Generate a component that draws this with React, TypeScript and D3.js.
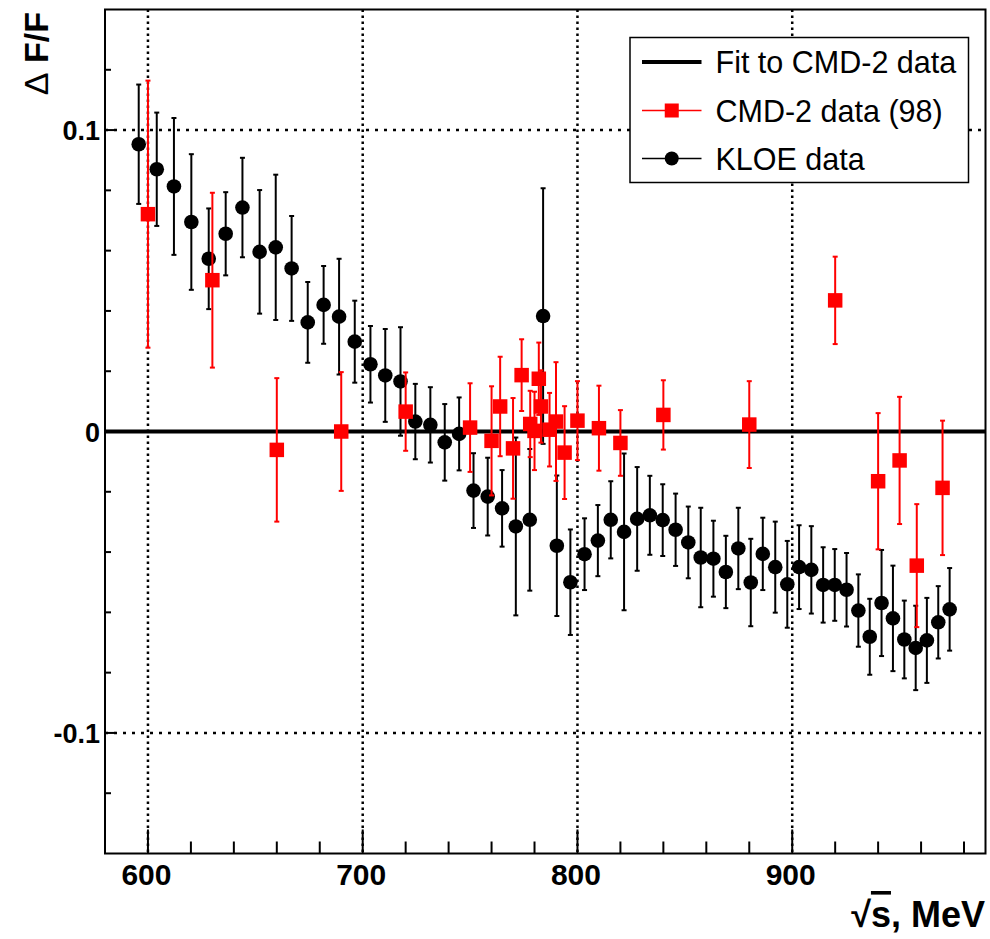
import React from "react";
import * as d3 from "d3";

// KLOE data
const kloeE = [595.7, 604.1, 612.1, 620.2, 628.3, 636.2, 644.0, 652.0, 659.5, 666.9, 674.4, 681.8, 689.0, 696.3, 703.6, 710.5, 717.6, 724.5, 731.5, 738.2, 744.9, 751.6, 758.2, 764.9, 771.3, 777.8, 784.0, 790.4, 796.7, 803.3, 809.5, 815.5, 821.7, 827.8, 833.7, 839.7, 845.7, 851.6, 857.4, 863.3, 869.1, 874.9, 880.7, 886.3, 892.1, 897.7, 903.2, 908.9, 914.4, 919.8, 925.3, 930.8, 936.1, 941.6, 946.9, 952.2, 957.5, 962.7, 968.0, 973.3];
const kloeV = [0.0953, 0.0870, 0.0813, 0.0695, 0.0573, 0.0656, 0.0743, 0.0596, 0.0611, 0.0541, 0.0362, 0.0420, 0.0381, 0.0298, 0.0223, 0.0186, 0.0166, 0.0033, 0.0022, -0.0036, -0.0008, -0.0196, -0.0216, -0.0255, -0.0315, -0.0293, 0.0383, -0.0379, -0.0500, -0.0407, -0.0362, -0.0293, -0.0333, -0.0290, -0.0278, -0.0294, -0.0326, -0.0368, -0.0418, -0.0422, -0.0466, -0.0388, -0.0501, -0.0406, -0.0450, -0.0507, -0.0450, -0.0459, -0.0509, -0.0509, -0.0525, -0.0594, -0.0681, -0.0569, -0.0620, -0.0690, -0.0718, -0.0693, -0.0633, -0.0590];
const kloeErr = [0.0198, 0.0188, 0.0227, 0.0225, 0.0167, 0.0138, 0.0165, 0.0205, 0.0241, 0.0174, 0.0134, 0.0129, 0.0192, 0.0136, 0.0127, 0.0154, 0.0180, 0.0125, 0.0125, 0.0127, 0.0121, 0.0124, 0.0129, 0.0127, 0.0295, 0.0235, 0.0424, 0.0233, 0.0175, 0.0119, 0.0118, 0.0128, 0.0260, 0.0172, 0.0131, 0.0119, 0.0120, 0.0119, 0.0165, 0.0126, 0.0120, 0.0135, 0.0145, 0.0120, 0.0151, 0.0144, 0.0139, 0.0145, 0.0125, 0.0119, 0.0122, 0.0120, 0.0126, 0.0176, 0.0175, 0.0129, 0.0140, 0.0141, 0.0120, 0.0137];

// CMD-2 data (98)
const cmdE = [600, 630, 660, 690, 720, 750, 760, 764, 770, 774, 778, 780, 782, 783, 787, 790, 794, 800, 810, 820, 840, 880, 920, 940, 950, 958, 970];
const cmdV = [0.0721, 0.0502, -0.0061, 0.0, 0.0066, 0.0013, -0.0031, 0.0083, -0.0056, 0.0187, 0.0025, 0.0002, 0.0175, 0.0083, 0.0006, 0.0033, -0.0070, 0.0036, 0.0011, -0.0038, 0.0055, 0.0023, 0.0435, -0.0165, -0.0096, -0.0445, -0.0187];
const cmdErr = [0.0443, 0.0290, 0.0238, 0.0197, 0.0130, 0.0147, 0.0181, 0.0165, 0.0167, 0.0119, 0.0110, 0.0130, 0.0120, 0.0120, 0.0122, 0.0197, 0.0154, 0.0131, 0.0141, 0.0109, 0.0115, 0.0144, 0.0145, 0.0226, 0.0211, 0.0204, 0.0223];

// Fit to CMD-2 data
const fitE = [580, 990];
const fitV = [0, 0];

const xMajorTicks = [600, 700, 800, 900];
const xMinorTicks = [580, 620, 640, 660, 680, 720, 740, 760, 780, 820, 840, 860, 880, 920, 940, 960, 980];
const yMajorTicks = [-0.1, 0, 0.1];
const yMinorTicks = [-0.12, -0.08, -0.06, -0.04, -0.02, 0.02, 0.04, 0.06, 0.08, 0.12];
const yTickLabels = ["-0.1", "0", "0.1"];
const legendLabels = ["Fit to CMD-2 data", "CMD-2 data (98)", "KLOE data"];

const W = 990;
const H = 939;
const L = 105;
const R = 985.5;
const T = 9.5;
const B = 853.5;

export default function App() {
  const x = d3.scaleLinear().domain([580, 990]).range([L, R]);
  const y = d3.scaleLinear().domain([-0.14, 0.14]).range([B, T]);
  const fitLine = d3.line<number>().x((_, i) => x(fitE[i])).y((_, i) => y(fitV[i]));
  const cap = 2.5;
  const font = "'Liberation Sans', Arial, Helvetica, sans-serif";

  const legX = 630;
  const legY = 37.5;
  const legW = 338.5;
  const legH = 145;
  const rowY = [62, 110.5, 158.5];

  return (
    <svg width={W} height={H} style={{ position: "absolute", left: 0, top: 0, background: "#fff" }} fontFamily={font}>
      <rect x={0} y={0} width={W} height={H} fill="#fff" />
      {/* grid */}
      {xMajorTicks.map((t) => (
        <line key={"gx" + t} x1={x(t)} x2={x(t)} y1={T} y2={B} stroke="#000" strokeWidth={2.5} strokeDasharray="2.5,3.5" />
      ))}
      {yMajorTicks.map((t) => (
        <line key={"gy" + t} x1={L} x2={R} y1={y(t)} y2={y(t)} stroke="#000" strokeWidth={2.5} strokeDasharray="3,6" />
      ))}
      {/* fit line */}
      <path d={fitLine(fitE) || ""} stroke="#000" strokeWidth={4} fill="none" />

      {/* KLOE */}
      <g>
        {kloeE.map((e, i) => {
          const cx = x(e);
          const y1 = y(kloeV[i] + kloeErr[i]);
          const y2 = y(kloeV[i] - kloeErr[i]);
          return (
            <g key={"k" + i}>
              <line x1={cx} x2={cx} y1={y1} y2={y2} stroke="#000" strokeWidth={2} />
              <line x1={cx - cap} x2={cx + cap} y1={y1} y2={y1} stroke="#000" strokeWidth={2} />
              <line x1={cx - cap} x2={cx + cap} y1={y2} y2={y2} stroke="#000" strokeWidth={2} />
              <circle cx={cx} cy={y(kloeV[i])} r={7.3} fill="#000" />
            </g>
          );
        })}
      </g>
      {/* CMD-2 */}
      <g>
        {cmdE.map((e, i) => {
          const cx = x(e);
          const y1 = y(cmdV[i] + cmdErr[i]);
          const y2 = y(cmdV[i] - cmdErr[i]);
          const s = 14.5;
          return (
            <g key={"c" + i}>
              <line x1={cx} x2={cx} y1={y1} y2={y2} stroke="#f00" strokeWidth={2} />
              <line x1={cx - cap} x2={cx + cap} y1={y1} y2={y1} stroke="#f00" strokeWidth={2} />
              <line x1={cx - cap} x2={cx + cap} y1={y2} y2={y2} stroke="#f00" strokeWidth={2} />
              <rect x={cx - s / 2} y={y(cmdV[i]) - s / 2} width={s} height={s} fill="#f00" />
            </g>
          );
        })}
      </g>

      {/* frame */}
      <rect x={L} y={T} width={R - L} height={B - T} fill="none" stroke="#000" strokeWidth={2} />

      {/* x ticks */}
      {xMajorTicks.map((t) => (
        <line key={"xt" + t} x1={x(t)} x2={x(t)} y1={B} y2={B - 24} stroke="#000" strokeWidth={2} />
      ))}
      {xMinorTicks.map((t) => (
        <line key={"xm" + t} x1={x(t)} x2={x(t)} y1={B} y2={B - 12} stroke="#000" strokeWidth={2} />
      ))}
      {xMajorTicks.map((t) => (
        <text key={"xl" + t} x={x(t) - 1.5} y={885} textAnchor="middle" fontSize={30} fontWeight="bold">
          {t}
        </text>
      ))}
      {/* y ticks */}
      {yMajorTicks.map((t) => (
        <line key={"yt" + t} x1={L} x2={L + 11} y1={y(t)} y2={y(t)} stroke="#000" strokeWidth={2} />
      ))}
      {yMinorTicks.map((t) => (
        <line key={"ym" + t} x1={L} x2={L + 6} y1={y(t)} y2={y(t)} stroke="#000" strokeWidth={2} />
      ))}
      {yMajorTicks.map((t, i) => (
        <text key={"yl" + t} x={100} y={y(t) + 10} textAnchor="end" fontSize={27} fontWeight="bold">
          {yTickLabels[i]}
        </text>
      ))}

      {/* axis titles */}
      <text x={985} y={927} textAnchor="end" fontSize={36} fontWeight="bold">
        <tspan>√</tspan>
        <tspan style={{ textDecoration: "overline" }}>s</tspan>
        <tspan>, MeV</tspan>
      </text>
      <text transform="translate(48,12) rotate(-90)" textAnchor="end" fontSize={34} fontWeight="bold">
        <tspan fontWeight="normal">Δ</tspan>
        <tspan> F/F</tspan>
      </text>

      {/* legend */}
      <rect x={legX} y={legY} width={legW} height={legH} fill="#fff" stroke="#000" strokeWidth={1.5} />
      <line x1={642} x2={701.5} y1={rowY[0]} y2={rowY[0]} stroke="#000" strokeWidth={4} />
      <line x1={642} x2={701.5} y1={rowY[1]} y2={rowY[1]} stroke="#f00" strokeWidth={1.5} />
      <rect x={671.75 - 7} y={rowY[1] - 7} width={14} height={14} fill="#f00" />
      <line x1={642} x2={701.5} y1={rowY[2]} y2={rowY[2]} stroke="#000" strokeWidth={1.5} />
      <circle cx={671.75} cy={rowY[2]} r={7} fill="#000" />
      {legendLabels.map((lab, i) => (
        <text key={"lg" + i} x={715.5} y={rowY[i] + 11} fontSize={30.5}>
          {lab}
        </text>
      ))}
    </svg>
  );
}
